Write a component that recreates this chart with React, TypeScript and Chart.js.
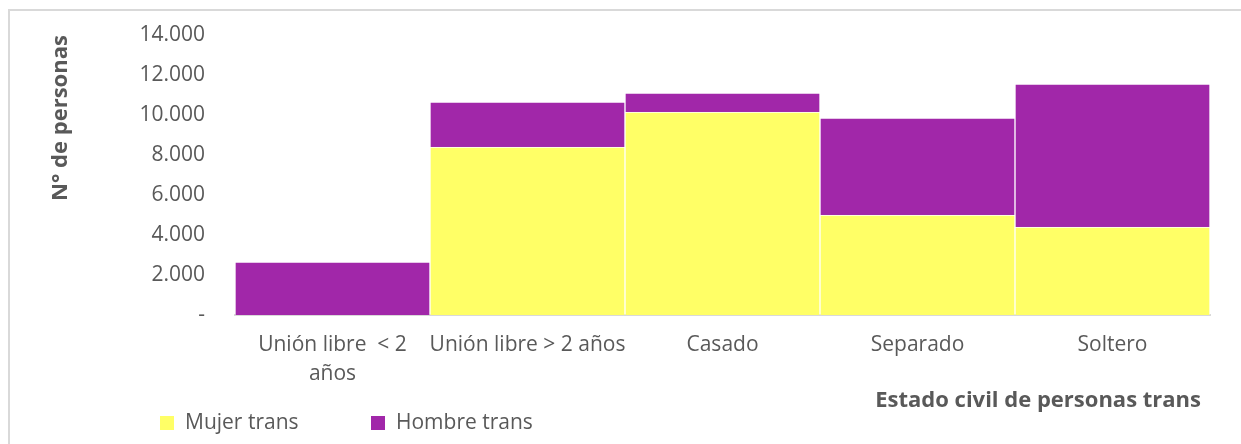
import React, { useEffect, useRef } from "react";
import { Chart, registerables } from "chart.js";

Chart.register(...registerables);

const categories: (string | string[])[] = [
  ["Unión libre  < 2", "años"],
  "Unión libre > 2 años",
  "Casado",
  "Separado",
  "Soltero",
];
const mujerTrans = [0, 8400, 10150, 5000, 4400];
const hombreTrans = [2650, 2250, 950, 4850, 7150];
const seriesNames = ["Mujer trans", "Hombre trans"];
const seriesColors = ["#FFFF66", "#A127A9"];
const yTicks = [0, 2000, 4000, 6000, 8000, 10000, 12000, 14000];
const xTitle = "Estado civil de personas trans";
const yTitle = "N° de personas";

const FONT = "'Open Sans', Lato, sans-serif";
const TEXT = "#595959";

function fmt(v: number): string {
  if (v === 0) return "-";
  return v.toString().replace(/\B(?=(\d{3})+(?!\d))/g, ".");
}

const decorPlugin = {
  id: "decor",
  afterDraw(chart: any) {
    const ctx = chart.ctx;
    ctx.save();
    ctx.fillStyle = TEXT;
    ctx.font = `bold 22px ${FONT}`;
    ctx.textAlign = "center";
    ctx.textBaseline = "middle";
    ctx.translate(61, 118);
    ctx.rotate(-Math.PI / 2);
    ctx.fillText(yTitle, 0, 0);
    ctx.restore();

    ctx.save();
    ctx.fillStyle = TEXT;
    ctx.font = `bold 22px ${FONT}`;
    ctx.textAlign = "right";
    ctx.textBaseline = "middle";
    ctx.fillText(xTitle, 1201, 401);

    const items = [
      { x: 160, tx: 185 },
      { x: 371, tx: 396 },
    ];
    ctx.textAlign = "left";
    ctx.font = `21px ${FONT}`;
    items.forEach((it, i) => {
      ctx.fillStyle = seriesColors[i];
      ctx.fillRect(it.x, 416, 14, 14);
      ctx.fillStyle = TEXT;
      ctx.fillText(seriesNames[i], it.tx, 423);
    });
    ctx.restore();
  },
};

export default function App() {
  const ref = useRef<HTMLCanvasElement>(null);
  useEffect(() => {
    document.body.style.margin = "0";
    const c = ref.current!;
    const chart = new Chart(c, {
      type: "bar",
      data: {
        labels: categories as any,
        datasets: [
          {
            label: seriesNames[0],
            data: mujerTrans,
            backgroundColor: seriesColors[0],
            borderColor: "rgba(255,255,255,0.35)",
            borderWidth: 1,
          },
          {
            label: seriesNames[1],
            data: hombreTrans,
            backgroundColor: seriesColors[1],
            borderColor: "rgba(255,255,255,0.35)",
            borderWidth: 1,
          },
        ],
      },
      options: {
        responsive: false,
        animation: false,
        devicePixelRatio: 1,
        layout: { padding: { left: 0, right: 31, top: 35, bottom: 0 } },
        plugins: {
          legend: { display: false },
          tooltip: { enabled: false },
        },
        datasets: {
          bar: { categoryPercentage: 1, barPercentage: 1 },
        },
        scales: {
          x: {
            stacked: true,
            grid: { display: false, drawTicks: false },
            border: { display: true, color: "#D9D9D9", width: 2 },
            ticks: {
              color: TEXT,
              font: { family: FONT, size: 21, lineHeight: 1.35 },
              padding: 16,
              maxRotation: 0,
              autoSkip: false,
            },
            afterFit: (s: any) => {
              s.height = 129;
              s.paddingLeft = 0;
              s.paddingRight = 0;
            },
          },
          y: {
            stacked: true,
            min: 0,
            max: 14000,
            afterBuildTicks: (s: any) => {
              s.ticks = yTicks.map((v) => ({ value: v }));
            },
            grid: { display: false, drawTicks: false },
            border: { display: false },
            ticks: {
              color: TEXT,
              font: { family: FONT, size: 21 },
              padding: 30,
              callback: (v: any) => fmt(Number(v)),
            },
            afterFit: (s: any) => {
              s.width = 235;
              s.paddingTop = 0;
              s.paddingBottom = 0;
            },
          },
        },
      },
      plugins: [decorPlugin],
    });
    return () => chart.destroy();
  }, []);
  return (
    <div style={{ position: "relative", width: 1241, height: 444, overflow: "hidden", background: "#fff" }}>
      <div
        style={{
          position: "absolute",
          left: 8,
          top: 9,
          width: 1300,
          height: 500,
          border: "2px solid #D9D9D9",
          boxSizing: "border-box",
        }}
      />
      <canvas ref={ref} width={1241} height={444} style={{ position: "absolute", left: 0, top: 0 }} />
    </div>
  );
}
